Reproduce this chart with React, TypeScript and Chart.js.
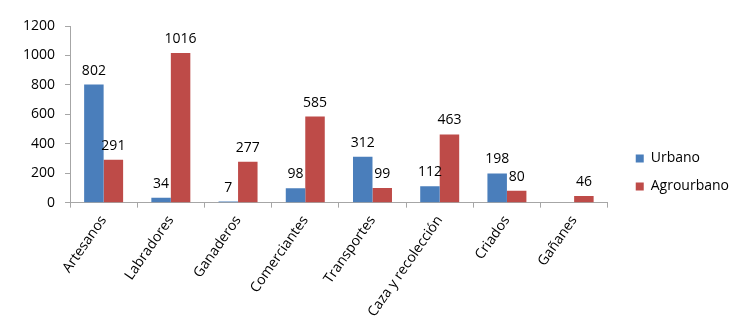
import React, { useEffect, useRef } from "react";
import { Chart, registerables } from "chart.js";

Chart.register(...registerables);

const categories = ["Artesanos", "Labradores", "Ganaderos", "Comerciantes", "Transportes", "Caza y recolección", "Criados", "Gañanes"];
const urbano: (number | null)[] = [802, 34, 7, 98, 312, 112, 198, null];
const agrourbano: (number | null)[] = [291, 1016, 277, 585, 99, 463, 80, 46];
const yTicks = [0, 200, 400, 600, 800, 1000, 1200];

const FONT = "'Open Sans', 'Liberation Sans', sans-serif";

const valueLabels = {
  id: "valueLabels",
  afterDatasetsDraw(chart: any) {
    const ctx = chart.ctx;
    ctx.save();
    ctx.font = `14px ${FONT}`;
    ctx.fillStyle = "#000";
    ctx.textAlign = "center";
    ctx.textBaseline = "bottom";
    chart.data.datasets.forEach((ds: any, i: number) => {
      const meta = chart.getDatasetMeta(i);
      meta.data.forEach((bar: any, j: number) => {
        const v = ds.data[j];
        if (v === null || v === undefined) return;
        ctx.fillText(String(v), bar.x, bar.y - 7);
      });
    });
    ctx.restore();
  },
};

const DX = 14;
const DY = -3;
const legendShift = {
  id: "legendShift",
  afterLayout(chart: any) {
    const lg = chart.legend;
    if (!lg) return;
    lg.left += DX;
    lg.right += DX;
    lg.top += DY;
    lg.bottom += DY;
    if (lg.legendHitBoxes) {
      lg.legendHitBoxes.forEach((b: any) => {
        b.left += DX;
        b.top += DY;
      });
    }
  },
};

export default function App() {
  const ref = useRef<HTMLCanvasElement>(null);
  useEffect(() => {
    if (!ref.current) return;
    const chart = new Chart(ref.current, {
      type: "bar",
      data: {
        labels: categories,
        datasets: [
          { label: "Urbano", data: urbano, backgroundColor: "#4A7EBB" },
          { label: "Agrourbano", data: agrourbano, backgroundColor: "#BE4B48" },
        ],
      },
      options: {
        responsive: false,
        animation: false,
        layout: { padding: { left: 13, top: 26, right: 12, bottom: 0 } },
        datasets: { bar: { categoryPercentage: 0.58, barPercentage: 1.0 } },
        plugins: {
          legend: {
            position: "right",
            labels: {
              boxWidth: 8,
              boxHeight: 8,
              padding: 14,
              color: "#000",
              font: { family: FONT, size: 14 },
            },
          },
          tooltip: { enabled: false },
        },
        scales: {
          x: {
            offset: true,
            grid: { display: true, drawOnChartArea: false, drawTicks: true, tickLength: 5, color: "#a6a6a6", offset: true },
            border: { display: true, color: "#a6a6a6" },
            ticks: {
              color: "#000",
              font: { family: FONT, size: 14 },
              minRotation: 55,
              maxRotation: 55,
              autoSkip: false,
              padding: 5,
            },
          },
          y: {
            min: 0,
            max: 1200,
            afterBuildTicks: (axis: any) => {
              axis.ticks = yTicks.map((v) => ({ value: v }));
            },
            grid: { display: true, drawOnChartArea: false, drawTicks: true, tickLength: 5, color: "#a6a6a6" },
            border: { display: true, color: "#a6a6a6" },
            ticks: {
              color: "#000",
              font: { family: FONT, size: 14 },
              padding: 10,
              callback: (v: any) => String(v),
            },
          },
        },
      },
      plugins: [valueLabels, legendShift],
    });
    return () => chart.destroy();
  }, []);
  return (
    <div style={{ position: "absolute", left: 0, top: 0, width: 737, height: 325, background: "#fff" }}>
      <canvas ref={ref} width={737} height={325} />
    </div>
  );
}
